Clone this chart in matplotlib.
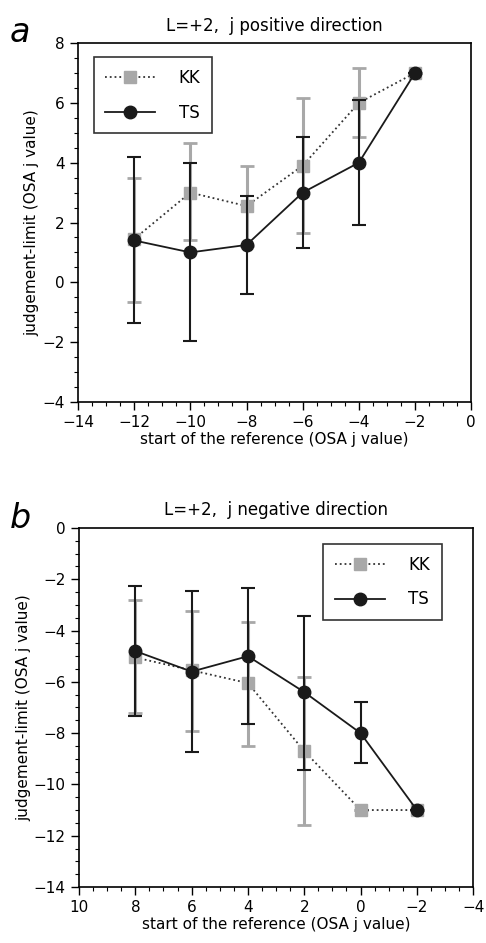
import numpy as np
import matplotlib.pyplot as plt
from matplotlib.ticker import MultipleLocator
from matplotlib.lines import Line2D

# panel a: L=+2, j positive direction
x_a = [-12, -10, -8, -6, -4, -2]
kk_a = [1.45, 3.0, 2.55, 3.9, 6.0, 7.0]
kk_a_lo = [-0.65, 1.4, 1.2, 1.65, 4.85, 7.0]
kk_a_hi = [3.5, 4.65, 3.9, 6.15, 7.15, 7.0]
ts_a = [1.4, 1.0, 1.25, 3.0, 4.0, 7.0]
ts_a_lo = [-1.35, -1.95, -0.4, 1.15, 1.9, 7.0]
ts_a_hi = [4.2, 4.0, 2.9, 4.85, 6.1, 7.0]

# panel b: L=+2, j negative direction
x_b = [8, 6, 4, 2, 0, -2]
kk_b = [-5.05, -5.55, -6.05, -8.7, -11.0, -11.0]
kk_b_lo = [-7.2, -7.9, -8.5, -11.6, -11.0, -11.0]
kk_b_hi = [-2.8, -3.25, -3.65, -5.8, -11.0, -11.0]
ts_b = [-4.8, -5.6, -5.0, -6.4, -8.0, -11.0]
ts_b_lo = [-7.35, -8.75, -7.65, -9.45, -9.15, -11.0]
ts_b_hi = [-2.25, -2.45, -2.35, -3.45, -6.8, -11.0]

gray = '#a8a8a8'
dark = '#1a1a1a'
fig = plt.figure(figsize=(4.86, 9.43), dpi=100)
ax1 = fig.add_axes([0.1605, 0.5737, 0.809, 0.3807])
ax2 = fig.add_axes([0.1626, 0.0594, 0.811, 0.3807])

handles = [
    Line2D([], [], color='#333333', ls=':', lw=1.3, marker='s', ms=8,
           mfc=gray, mec=gray, label='KK'),
    Line2D([], [], color=dark, ls='-', lw=1.3, marker='o', ms=9,
           mfc=dark, mec=dark, label='TS'),
]


def draw(ax, x, kk, kk_lo, kk_hi, ts, ts_lo, ts_hi):
    kk, ts = np.array(kk), np.array(ts)
    kerr = [kk - np.array(kk_lo), np.array(kk_hi) - kk]
    terr = [ts - np.array(ts_lo), np.array(ts_hi) - ts]
    ax.errorbar(x, kk, yerr=kerr, fmt='none', ecolor=gray, elinewidth=2.2,
                capsize=5, capthick=2, zorder=2)
    ax.plot(x, kk, color='#333333', ls=':', lw=1.3, zorder=2)
    ax.plot(x, kk, ls='none', marker='s', ms=8, mfc=gray, mec=gray, zorder=2.5)
    ax.errorbar(x, ts, yerr=terr, color=dark, ls='-', lw=1.3, marker='o', ms=9,
                mfc=dark, mec=dark, ecolor=dark, elinewidth=1.5,
                capsize=5, capthick=1.5, zorder=3)
    ax.tick_params(which='both', direction='out', labelsize=11, top=False, right=False)
    ax.tick_params(which='major', length=6, width=1)
    ax.tick_params(which='minor', length=3, width=0.8)
    ax.xaxis.set_minor_locator(MultipleLocator(0.5))
    ax.yaxis.set_minor_locator(MultipleLocator(0.5))
    for s in ax.spines.values():
        s.set_linewidth(1.2)
    ax.set_xlabel('start of the reference (OSA j value)', fontsize=11, labelpad=1)
    ax.set_ylabel('judgement-limit (OSA j value)', fontsize=11, labelpad=2)


draw(ax1, x_a, kk_a, kk_a_lo, kk_a_hi, ts_a, ts_a_lo, ts_a_hi)
ax1.set_xlim(-14, 0)
ax1.set_ylim(-4, 8)
ax1.set_xticks(np.arange(-14, 1, 2))
ax1.set_yticks(np.arange(-4, 9, 2))
ax1.set_title('L=+2,  j positive direction', fontsize=12, pad=9)
leg1 = ax1.legend(handles=handles, loc='upper left', bbox_to_anchor=(0.04, 0.96),
                  fontsize=12, fancybox=False, edgecolor='black', handlelength=3.0,
                  labelspacing=1.0, borderpad=0.7, handletextpad=1.4, borderaxespad=0)
leg1.get_frame().set_linewidth(1.2)

draw(ax2, x_b, kk_b, kk_b_lo, kk_b_hi, ts_b, ts_b_lo, ts_b_hi)
ax2.set_xlim(10, -4)
ax2.set_ylim(-14, 0)
ax2.set_xticks(np.arange(10, -5, -2))
ax2.set_yticks(np.arange(-14, 1, 2))
ax2.set_title('L=+2,  j negative direction', fontsize=12, pad=9)
leg2 = ax2.legend(handles=handles, loc='upper right', bbox_to_anchor=(0.92, 0.955),
                  fontsize=12, fancybox=False, edgecolor='black', handlelength=3.0,
                  labelspacing=1.0, borderpad=0.7, handletextpad=1.4, borderaxespad=0)
leg2.get_frame().set_linewidth(1.2)

fig.text(0.02, 0.955, 'a', fontsize=24, style='italic')
fig.text(0.02, 0.44, 'b', fontsize=24, style='italic')

fig.savefig('out.png', dpi=100)
